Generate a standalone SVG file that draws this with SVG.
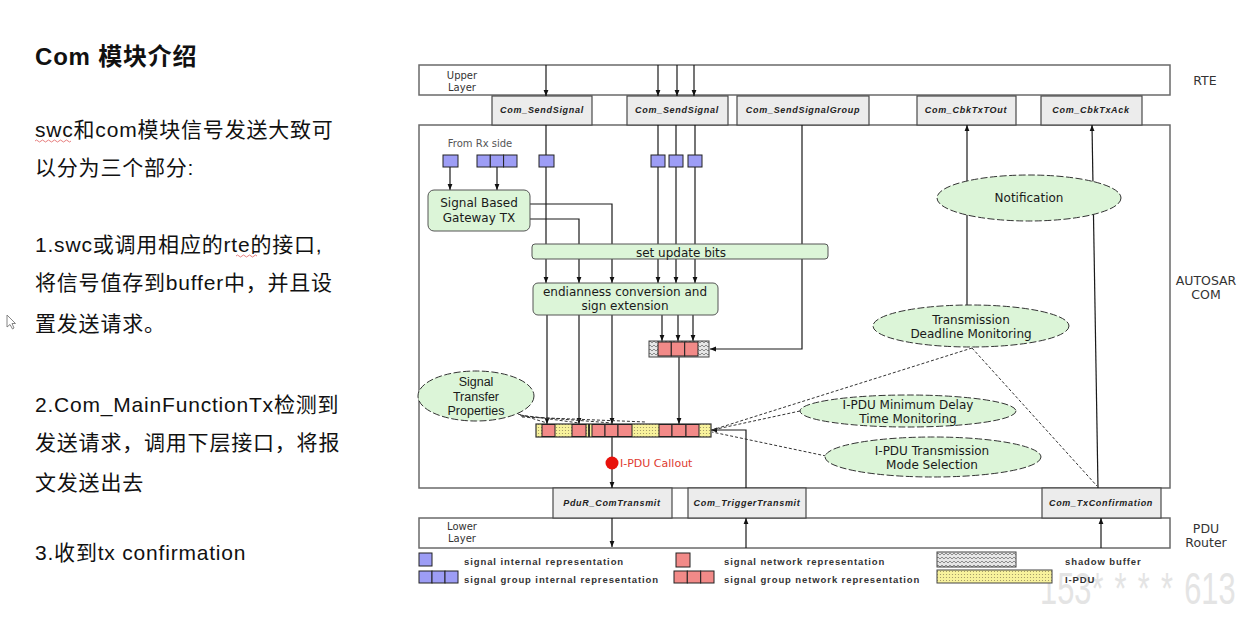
<svg xmlns="http://www.w3.org/2000/svg" width="1246" height="642" viewBox="0 0 1246 642">
<defs>
<style>
.lay{fill:#fff;stroke:#6a6a6a;stroke-width:1.5}
.fn{fill:#ececec;stroke:#4a4a4a;stroke-width:1.2}
.fnt{font-family:"Liberation Sans",Arial,sans-serif;font-size:9px;font-weight:bold;font-style:italic;letter-spacing:0.7px;fill:#222;text-anchor:middle}
.lbl{font-family:"DejaVu Sans",sans-serif;font-size:12px;fill:#1a1a1a;text-anchor:middle}
.stp{font-family:"Liberation Sans",Arial,sans-serif;font-size:12.5px;fill:#1a1a1a;text-anchor:middle}
.sm{font-family:"DejaVu Sans",sans-serif;font-size:10px;fill:#444;text-anchor:middle}
.side{font-family:"DejaVu Sans",sans-serif;font-size:12.5px;fill:#333;text-anchor:middle}
.ell{fill:#dcf5d8;stroke:#333;stroke-width:1;stroke-dasharray:7 2.5}
.box{fill:#dcf5d8;stroke:#555;stroke-width:1}
.blue{fill:#9d9df5;stroke:#222;stroke-width:1}
.red{fill:#f28a88;stroke:#222;stroke-width:1}
.ln{fill:none;stroke:#1a1a1a;stroke-width:1.2}
.ar{marker-end:url(#ah)}
.dsh{fill:none;stroke:#333;stroke-width:1;stroke-dasharray:3 2}
.leg{font-family:"Liberation Sans",Arial,sans-serif;font-size:9.5px;font-weight:bold;letter-spacing:0.9px;fill:#333}
.cn{font-family:"Liberation Sans","Noto Sans CJK SC",sans-serif;font-size:21px;letter-spacing:0.8px;fill:#111}
</style>
<marker id="ah" viewBox="0 0 10 10" refX="10" refY="5" markerWidth="6" markerHeight="6" markerUnits="userSpaceOnUse" orient="auto">
<path d="M0,1 L10,5 L0,9 Z" fill="#111"/>
</marker>
<pattern id="dots" width="3" height="3" patternUnits="userSpaceOnUse">
<rect width="3" height="3" fill="#f8f29c"/>
<circle cx="1.5" cy="1.5" r="0.6" fill="#9a9062"/>
</pattern>
<pattern id="hatch" width="4" height="4" patternUnits="userSpaceOnUse">
<rect width="4" height="4" fill="#e6e6e6"/>
<path d="M0,3 L2,1 L4,3" fill="none" stroke="#666" stroke-width="0.7"/>
</pattern>
</defs>

<rect width="1246" height="642" fill="#fff"/>

<!-- slide text on the left -->
<g id="notes">
<text x="35" y="65" style="font-family:'Liberation Sans','Noto Sans CJK SC',sans-serif;font-size:24px;font-weight:bold;letter-spacing:0.8px;fill:#111">Com 模块介绍</text>
<text class="cn" x="35" y="137">swc和com模块信号发送大致可</text>
<text class="cn" x="35" y="175">以分为三个部分:</text>
<text class="cn" x="35" y="252">1.swc或调用相应的rte的接口,</text>
<text class="cn" x="35" y="290">将信号值存到buffer中，并且设</text>
<text class="cn" x="35" y="331">置发送请求。</text>
<text class="cn" x="35" y="412">2.Com_MainFunctionTx检测到</text>
<text class="cn" x="35" y="450">发送请求，调用下层接口，将报</text>
<text class="cn" x="35" y="490">文发送出去</text>
<text class="cn" x="35" y="560">3.收到tx confirmation</text>
<path d="M35,141 q1.5,-2 3,0 t3,0 t3,0 t3,0 t3,0 t3,0 t3,0 t3,0 t3,0 t3,0 t3,0 t3,0" fill="none" stroke="#e06060" stroke-width="0.8"/>
<path d="M236,256 q1.5,-2 3,0 t3,0 t3,0 t3,0 t3,0 t3,0 t3,0" fill="none" stroke="#e06060" stroke-width="0.8"/>
<path d="M7,315 L7,327 L10,324.5 L12.5,329 L14,328 L12,323.5 L15.5,323.5 Z" fill="#fff" stroke="#777" stroke-width="0.9"/>
</g>

<!-- layer frames -->
<g id="layers">
<rect class="lay" x="419" y="65" width="751" height="30"/>
<path class="lay" d="M419,488 L419,125 L1170,125 L1170,488 Z" style="fill:#fff"/>
<rect class="lay" x="419" y="518" width="751" height="30"/>
<text class="sm" x="462" y="79" style="fill:#333">Upper</text>
<text class="sm" x="462" y="91" style="fill:#333">Layer</text>
<text class="sm" x="462" y="530" style="fill:#333">Lower</text>
<text class="sm" x="462" y="542" style="fill:#333">Layer</text>
<text class="side" x="1205" y="85">RTE</text>
<text class="side" x="1206" y="285">AUTOSAR</text>
<text class="side" x="1206" y="299">COM</text>
<text class="side" x="1206" y="533">PDU</text>
<text class="side" x="1206" y="547">Router</text>
</g>

<!-- API boxes -->
<g id="api-upper">
<rect class="fn" x="492" y="96" width="100" height="29"/>
<text class="fnt" x="542" y="113">Com_SendSignal</text>
<rect class="fn" x="627" y="96" width="101" height="29"/>
<text class="fnt" x="677" y="113">Com_SendSignal</text>
<rect class="fn" x="737" y="96" width="132" height="29"/>
<text class="fnt" x="803" y="113">Com_SendSignalGroup</text>
<rect class="fn" x="917" y="96" width="99" height="29"/>
<text class="fnt" x="966" y="113">Com_CbkTxTOut</text>
<rect class="fn" x="1041" y="96" width="101" height="29"/>
<text class="fnt" x="1091" y="113">Com_CbkTxAck</text>
</g>
<g id="api-lower">
<rect class="fn" x="553" y="488" width="119" height="30"/>
<text class="fnt" x="612" y="506">PduR_ComTransmit</text>
<rect class="fn" x="688" y="488" width="118" height="30"/>
<text class="fnt" x="747" y="506">Com_TriggerTransmit</text>
<rect class="fn" x="1042" y="488" width="119" height="30"/>
<text class="fnt" x="1101" y="506">Com_TxConfirmation</text>
</g>

<!-- connectors -->
<g id="connectors">
<path class="ln ar" d="M546,65 V96"/>
<path class="ln ar" d="M658,65 V96"/>
<path class="ln ar" d="M677,65 V96"/>
<path class="ln ar" d="M694,65 V96"/>
<path class="ln" d="M546,125 V155 M658,125 V155 M676,125 V155 M695,125 V155"/>
<path class="ln ar" d="M546,167 V283"/>
<path class="ln ar" d="M658,167 V283"/>
<path class="ln ar" d="M676,167 V283"/>
<path class="ln ar" d="M695,167 V283"/>
<path class="ln ar" d="M450,167 V190"/>
<path class="ln ar" d="M497,167 V190"/>
<path class="ln ar" d="M530,204 H612 V283"/>
<path class="ln ar" d="M530,219 H579 V283"/>
<path class="ln ar" d="M802,125 V349 H710"/>
<path class="ln ar" d="M547,315 V424"/>
<path class="ln ar" d="M579,315 V424"/>
<path class="ln ar" d="M612,315 V424"/>
<path class="ln ar" d="M662,315 V341"/>
<path class="ln ar" d="M678,315 V341"/>
<path class="ln ar" d="M693,315 V341"/>
<path class="ln ar" d="M679,357 V424"/>
<path class="ln ar" d="M612,437 V488"/>
<path class="ln ar" d="M612,518 V547"/>
<path class="ln ar" d="M746,548 V518"/>
<path class="ln ar" d="M746,488 V430 H711"/>
<path class="ln ar" d="M1101,548 V518"/>
<path class="ln ar" d="M1098,488 L1092,125"/>
<path class="ln ar" d="M967,305 V125"/>
<path class="dsh" d="M518,414 L547,423 M520,415 L579,423 M521,416 L612,423 M522,417 L646,422"/>
<path class="dsh" d="M972,348 L712,430"/>
<path class="dsh" d="M972,348 L1097,486"/>
<path class="dsh" d="M800,411 L712,430"/>
<path class="dsh" d="M826,456 L712,432"/>
</g>

<!-- signal sources -->
<g id="signals">
<text class="sm" x="480" y="147" style="fill:#555">From Rx side</text>
<rect class="blue" x="443" y="155" width="15" height="12"/>
<rect class="blue" x="477" y="155" width="13.3" height="12"/>
<rect class="blue" x="490.3" y="155" width="13.3" height="12"/>
<rect class="blue" x="503.6" y="155" width="13.4" height="12"/>
<rect class="blue" x="539" y="155" width="15" height="12"/>
<rect class="blue" x="651" y="155" width="14" height="12"/>
<rect class="blue" x="669" y="155" width="14" height="12"/>
<rect class="blue" x="688" y="155" width="14" height="12"/>
</g>

<g id="gateway">
<rect class="box" x="428" y="190" width="102" height="41" rx="6"/>
<text class="lbl" x="479" y="207">Signal Based</text>
<text class="lbl" x="479" y="222">Gateway TX</text>
</g>

<g id="update-bits">
<rect class="box" x="532" y="244" width="296" height="15" rx="3"/>
<text class="lbl" x="681" y="257">set update bits</text>
</g>

<g id="endianness">
<rect class="box" x="533" y="283" width="185" height="32" rx="5"/>
<text class="lbl" x="625" y="296">endianness conversion and</text>
<text class="lbl" x="625" y="310">sign extension</text>
</g>

<g id="shadow-buffer">
<rect x="649" y="341" width="60" height="16" fill="url(#hatch)" stroke="#444" stroke-width="1"/>
<rect class="red" x="658" y="342" width="13.3" height="14"/>
<rect class="red" x="671.3" y="342" width="13.4" height="14"/>
<rect class="red" x="684.7" y="342" width="13.3" height="14"/>
</g>

<g id="ipdu">
<rect x="536" y="424" width="175" height="13" fill="url(#dots)" stroke="#333" stroke-width="1.2"/>
<rect class="red" x="542" y="424.5" width="13" height="12"/>
<rect class="red" x="572" y="424.5" width="14" height="12"/>
<rect class="red" x="592" y="424.5" width="13" height="12"/>
<rect class="red" x="605" y="424.5" width="13" height="12"/>
<rect class="red" x="618" y="424.5" width="14" height="12"/>
<rect class="red" x="659" y="424.5" width="13" height="12"/>
<rect class="red" x="672" y="424.5" width="14" height="12"/>
<rect class="red" x="686" y="424.5" width="13" height="12"/>
<path d="M589,424 V437" stroke="#222" stroke-width="1.8"/>
</g>

<g id="callout">
<circle cx="612" cy="463" r="6.5" fill="#e8120c"/>
<text x="620" y="467" style="font-family:'DejaVu Sans',sans-serif;font-size:11px;fill:#e03a30">I-PDU Callout</text>
</g>

<g id="signal-transfer">
<ellipse class="ell" cx="476" cy="396" rx="58" ry="25"/>
<text class="stp" x="476" y="386">Signal</text>
<text class="stp" x="476" y="401">Transfer</text>
<text class="stp" x="476" y="415">Properties</text>
</g>

<g id="notification">
<ellipse class="ell" cx="1029" cy="198" rx="92" ry="23"/>
<text class="lbl" x="1029" y="202">Notification</text>
</g>

<g id="deadline">
<ellipse class="ell" cx="971" cy="326" rx="98" ry="21"/>
<text class="lbl" x="971" y="324">Transmission</text>
<text class="lbl" x="971" y="338">Deadline Monitoring</text>
</g>

<g id="min-delay">
<ellipse class="ell" cx="908" cy="411" rx="108" ry="16"/>
<text class="lbl" x="908" y="409">I-PDU Minimum Delay</text>
<text class="lbl" x="908" y="423">Time Monitoring</text>
</g>

<g id="tx-mode">
<ellipse class="ell" cx="933" cy="457" rx="108" ry="20"/>
<text class="lbl" x="932" y="455">I-PDU Transmission</text>
<text class="lbl" x="932" y="469">Mode Selection</text>
</g>

<!-- faint number stamp, drawn under the key -->
<text transform="translate(1040,604) scale(0.7,1)" style="font-family:'Liberation Sans',sans-serif;font-size:44px;fill:#e4e4e4">153<tspan letter-spacing="16">****</tspan>613</text>

<!-- key -->
<g id="legend">
<rect class="blue" x="419" y="553" width="13" height="13"/>
<text class="leg" x="464" y="565">signal internal representation</text>
<rect class="blue" x="419" y="571" width="13" height="12"/>
<rect class="blue" x="432" y="571" width="13" height="12"/>
<rect class="blue" x="445" y="571" width="13" height="12"/>
<text class="leg" x="464" y="583">signal group internal representation</text>
<rect class="red" x="676" y="553" width="14" height="14"/>
<text class="leg" x="724" y="565">signal network representation</text>
<rect class="red" x="674" y="571" width="13.3" height="12"/>
<rect class="red" x="687.3" y="571" width="13.4" height="12"/>
<rect class="red" x="700.7" y="571" width="13.3" height="12"/>
<text class="leg" x="724" y="583">signal group network representation</text>
<rect x="937" y="552" width="79" height="15" fill="url(#hatch)" stroke="#444" stroke-width="1"/>
<text class="leg" x="1065" y="565">shadow buffer</text>
<rect x="937" y="570" width="115" height="13" fill="url(#dots)" stroke="#444" stroke-width="1"/>
<text class="leg" x="1065" y="583">I-PDU</text>
</g>
</svg>
